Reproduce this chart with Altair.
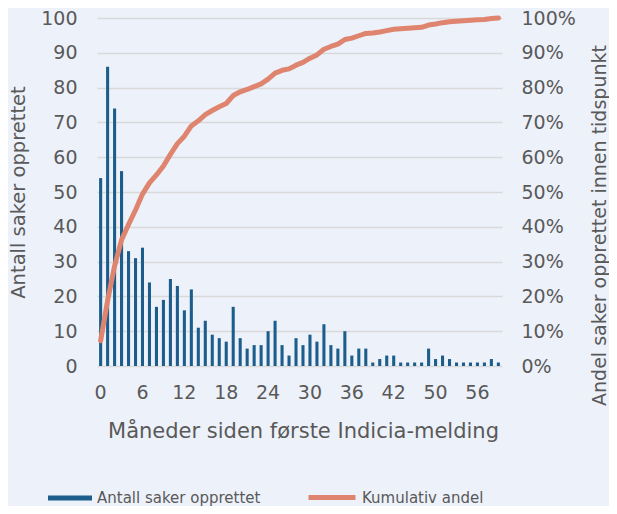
import altair as alt
import pandas as pd

# Months since first Indicia report (two months absent between 42 and 50)
months = list(range(0, 46)) + list(range(48, 60))
counts = [54, 86, 74, 56, 33, 31, 34, 24, 17, 19,
          25, 23, 16, 22, 11, 13, 9, 8, 7, 17,
          8, 5, 6, 6, 10, 13, 6, 3, 8, 6,
          9, 7, 12, 6, 5, 10, 3, 5, 5, 1,
          2, 3, 3, 1, 1, 1, 1, 5, 2, 3,
          2, 1, 1, 1, 1, 1, 2, 1]
x_ticks = [0, 6, 12, 18, 24, 30, 36, 42, 50, 56]
left_ticks = [0, 10, 20, 30, 40, 50, 60, 70, 80, 90, 100]
right_ticks = [0, 0.1, 0.2, 0.3, 0.4, 0.5, 0.6, 0.7, 0.8, 0.9, 1.0]
bar_name = "Antall saker opprettet"
line_name = "Kumulativ andel"
bar_color = "#1C5D8C"
line_color = "#DE846F"

df = pd.DataFrame({"maaned": months, "antall": counts})

FONT = "DejaVu Sans"
TXT = "#595959"
BG = "#EDF1F9"

W, H = 405, 348
TICK_FS = 19
TITLE_FS = 19.5

xenc = alt.X("maaned:O",
             scale=alt.Scale(paddingInner=0.56, paddingOuter=0.3),
             axis=alt.Axis(values=x_ticks, labelAngle=0, domain=False, ticks=False,
                           labelPadding=17, labelFontSize=TICK_FS, labelColor=TXT, labelFont=FONT,
                           title="Måneder siden første Indicia-melding",
                           titleFontSize=21, titleFontWeight="normal", titleColor=TXT,
                           titleFont=FONT, titleX=206, titleY=65, titleAlign="center",
                           titleBaseline="middle"))

bar_legend = alt.Legend(orient="none", legendX=-49, legendY=458, direction="horizontal",
                        title=None, labelFontSize=15, labelColor=TXT, labelFont=FONT,
                        labelLimit=400,
                        symbolSize=1936, symbolType="M-1,-0.115H1V0.115H-1Z",
                        symbolStrokeWidth=0, labelOffset=5, padding=0)
line_legend = alt.Legend(orient="none", legendX=209, legendY=453.5, direction="horizontal",
                         title=None, labelFontSize=15, labelColor=TXT, labelFont=FONT,
                         labelLimit=400,
                         symbolSize=2209, symbolType="stroke", symbolStrokeWidth=5,
                         labelOffset=4, padding=0)

bars = alt.Chart(df).mark_bar().encode(
    x=xenc,
    y=alt.Y("antall:Q", scale=alt.Scale(domain=[0, 100], nice=False),
            axis=alt.Axis(values=left_ticks, grid=True, gridColor="#D9D9D9", gridWidth=1.5,
                          domain=False, ticks=False, labelPadding=20, labelFontSize=TICK_FS,
                          labelColor=TXT, labelFont=FONT,
                          title="Antall saker opprettet", titleFontSize=TITLE_FS,
                          titleFontWeight="normal", titleColor=TXT, titleFont=FONT,
                          titleAngle=270, titleX=-79, titleY=H / 2, titleAlign="center",
                          titleBaseline="middle")),
    color=alt.Color("s:N", scale=alt.Scale(domain=[bar_name], range=[bar_color]),
                    legend=bar_legend),
).transform_calculate(s=f"'{bar_name}'")

line = alt.Chart(df).transform_window(
    cum="sum(antall)", sort=[{"field": "maaned"}], frame=[None, 0]
).transform_joinaggregate(total="sum(antall)").transform_calculate(
    andel="datum.cum / datum.total", s=f"'{line_name}'"
).mark_line(strokeWidth=5, strokeCap="round", strokeJoin="round").encode(
    x=xenc,
    y=alt.Y("andel:Q", scale=alt.Scale(domain=[0, 1], nice=False),
            axis=alt.Axis(orient="right", values=right_ticks, format=".0%", grid=False,
                          domain=False, ticks=False, labelPadding=19, labelFontSize=TICK_FS,
                          labelColor=TXT, labelFont=FONT,
                          title="Andel saker opprettet innen tidspunkt", titleFontSize=19,
                          titleFontWeight="normal", titleColor=TXT, titleFont=FONT,
                          titleAngle=270, titleX=97, titleY=207, titleAlign="center",
                          titleBaseline="middle")),
    color=alt.Color("s:N", scale=alt.Scale(domain=[line_name], range=[line_color]),
                    legend=line_legend),
)

chart = alt.layer(bars, line).resolve_scale(y="independent", color="independent").properties(
    width=W, height=H,
    background=BG,
    padding={"left": 89, "top": 10, "right": 107, "bottom": 140},
    autosize=alt.AutoSizeParams(type="none"),
).configure_view(stroke=None)

chart.save("out.html", embed_options={"renderer": "svg", "actions": False})
